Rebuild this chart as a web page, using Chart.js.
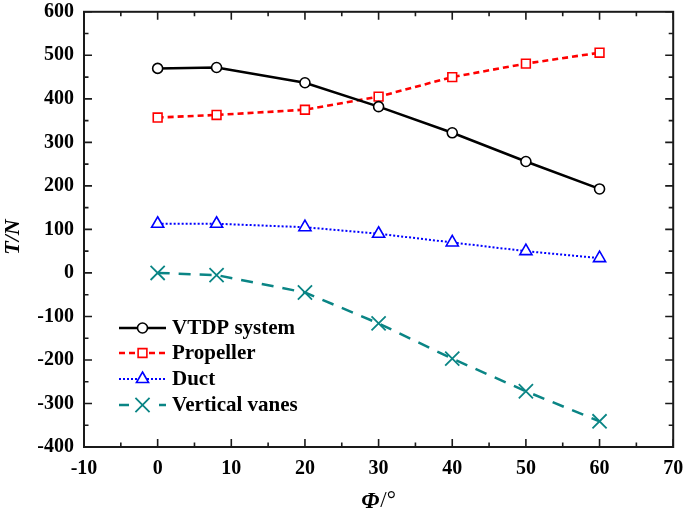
<!DOCTYPE html>
<html>
<head>
<meta charset="utf-8">
<script src="https://cdn.jsdelivr.net/npm/chart.js@4.4.1/dist/chart.umd.min.js"></script>
<style>
html,body{margin:0;padding:0;background:#fff;}
#wrap{width:685px;height:517px;position:relative;}
</style>
</head>
<body>
<div id="wrap"><canvas id="c" width="685" height="517"></canvas></div>
<script>
const phi = [0, 8, 20, 30, 40, 50, 60];
const vtdp = [470, 472, 437, 382, 322, 256, 193];
const propeller = [357, 363, 375, 405, 450, 481, 506];
const duct = [113, 113, 105, 90, 70, 50, 34];
const vanes = [0, -5, -45, -116, -197, -272, -341];
const seriesNames = ['VTDP system', 'Propeller', 'Duct', 'Vertical vanes'];
const xTitleMain = 'Φ', xTitleUnit = '/°';
const yTitle = 'T/N';

const FONT = '"Liberation Serif", "Times New Roman", serif';
const AXIS = '#1a1a1a';

function pts(arr){ return phi.map((x,i)=>({x:x,y:arr[i]})); }

const datasets = [
  {label:seriesNames[0], data:pts(vtdp), borderColor:'#000', backgroundColor:'#fff',
   borderWidth:2.5, pointStyle:'circle', pointRadius:5, pointBorderWidth:1.6, pointBorderColor:'#000', pointBackgroundColor:'#fff', borderDash:[]},
  {label:seriesNames[1], data:pts(propeller), borderColor:'#ff0000', backgroundColor:'#fff',
   borderWidth:2.6, pointStyle:'rect', pointRadius:6.2, pointBorderWidth:1.6, pointBorderColor:'#ff0000', pointBackgroundColor:'#fff', borderDash:[6,4]},
  {label:seriesNames[2], data:pts(duct), borderColor:'#0000ff', backgroundColor:'#fff',
   borderWidth:2, pointStyle:'triangle', pointRadius:7, pointBorderWidth:1.6, pointBorderColor:'#0000ff', pointBackgroundColor:'#fff', borderDash:[2,2]},
  {label:seriesNames[3], data:pts(vanes), borderColor:'#0a8585', backgroundColor:'#0a8585',
   borderWidth:2.5, pointStyle:'crossRot', pointRadius:10, pointBorderWidth:1.8, pointBorderColor:'#0a8585', pointBackgroundColor:'#0a8585', borderDash:[12,9]}
];

const framePlugin = {
  id:'frame',
  afterDraw(chart){
    const ctx = chart.ctx, a = chart.chartArea;
    const xs = chart.scales.x, ys = chart.scales.y;
    ctx.save();
    ctx.strokeStyle = AXIS; ctx.lineWidth = 2; ctx.setLineDash([]);
    ctx.strokeRect(a.left, a.top, a.right-a.left, a.bottom-a.top);
    ctx.lineWidth = 1.6;
    ctx.beginPath();
    for (let v = xs.min; v <= xs.max + 1e-9; v += 5){
      const px = xs.getPixelForValue(v);
      const len = (Math.round(v) % 10 === 0) ? 8 : 4.5;
      ctx.moveTo(px, a.bottom); ctx.lineTo(px, a.bottom - len);
      ctx.moveTo(px, a.top); ctx.lineTo(px, a.top + len);
    }
    for (let v = ys.min; v <= ys.max + 1e-9; v += 50){
      const py = ys.getPixelForValue(v);
      const len = (Math.round(v) % 100 === 0) ? 8 : 4.5;
      ctx.moveTo(a.left, py); ctx.lineTo(a.left + len, py);
      ctx.moveTo(a.right, py); ctx.lineTo(a.right - len, py);
    }
    ctx.stroke();

    // legend
    const x0 = 119, x1 = 166, tx = 172;
    const rows = [328, 353, 379, 405];
    chart.data.datasets.forEach((ds, i) => {
      const y = rows[i];
      ctx.save();
      ctx.strokeStyle = ds.borderColor; ctx.lineWidth = ds.borderWidth;
      ctx.setLineDash(ds.borderDash || []);
      if (i === 3) ctx.setLineDash([10, 30]);
      ctx.beginPath(); ctx.moveTo(x0, y); ctx.lineTo(x1, y); ctx.stroke();
      ctx.setLineDash([]);
      ctx.fillStyle = ds.pointBackgroundColor; ctx.strokeStyle = ds.pointBorderColor;
      ctx.lineWidth = ds.pointBorderWidth;
      Chart.helpers.drawPoint(ctx, {pointStyle: ds.pointStyle, radius: ds.pointRadius, rotation: 0, borderWidth: ds.pointBorderWidth}, (x0+x1)/2, y);
      ctx.restore();
      ctx.fillStyle = '#000';
      ctx.font = 'bold 21px ' + FONT;
      ctx.textBaseline = 'middle'; ctx.textAlign = 'left';
      ctx.fillText(ds.label, tx, y + 1);
    });

    // axis titles
    ctx.fillStyle = '#000';
    ctx.textBaseline = 'middle';
    ctx.save();
    ctx.translate(13, 237);
    ctx.rotate(-Math.PI/2);
    ctx.textAlign = 'center';
    ctx.font = 'italic bold 22px ' + FONT;
    ctx.fillText(yTitle, 0, 0);
    ctx.restore();

    ctx.font = 'italic bold 23px ' + FONT;
    const w1 = ctx.measureText(xTitleMain).width;
    ctx.font = '23px ' + FONT;
    const w2 = ctx.measureText(xTitleUnit).width;
    let sx = 378 - (w1 + w2)/2;
    ctx.textAlign = 'left';
    ctx.font = 'italic bold 23px ' + FONT;
    ctx.fillText(xTitleMain, sx, 502);
    ctx.font = '23px ' + FONT;
    ctx.fillText(xTitleUnit, sx + w1 + 1, 501);
    ctx.restore();
  }
};

new Chart(document.getElementById('c'), {
  type:'line',
  data:{datasets:datasets},
  options:{
    responsive:false, animation:false,
    layout:{padding:{top:9, right:11, left:0, bottom:0}},
    plugins:{legend:{display:false}, tooltip:{enabled:false}},
    elements:{line:{tension:0, fill:false}},
    scales:{
      x:{type:'linear', min:-10, max:70,
        ticks:{stepSize:10, color:'#000', font:{family:FONT, size:20, weight:'bold'}, padding:10, maxRotation:0},
        grid:{display:false, drawTicks:false}, border:{display:false},
        title:{display:false},
        afterFit(s){ s.height = 70; s.paddingLeft = 0; s.paddingRight = 0; }
      },
      y:{type:'linear', min:-400, max:600,
        ticks:{stepSize:100, color:'#000', font:{family:FONT, size:20, weight:'bold'}, padding:10},
        grid:{display:false, drawTicks:false}, border:{display:false},
        title:{display:false},
        afterFit(s){ s.width = 84; s.paddingTop = 0; s.paddingBottom = 0; }
      }
    }
  },
  plugins:[framePlugin]
});
</script>
</body>
</html>
